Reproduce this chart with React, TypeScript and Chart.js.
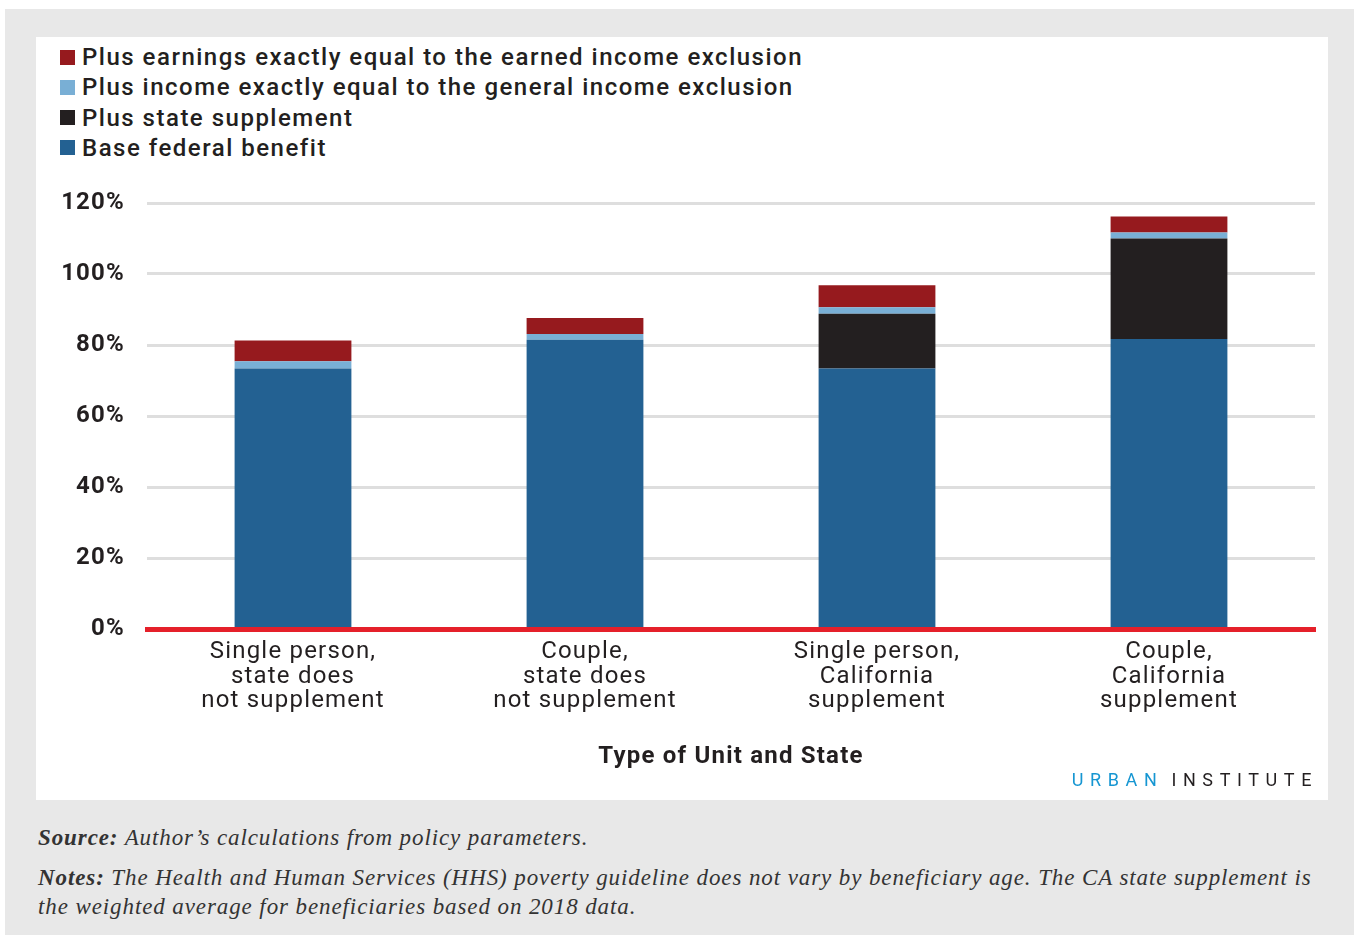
import React, { useEffect, useRef } from "react";
import { Chart, registerables } from "chart.js";

Chart.register(...registerables);

const categories: string[][] = [
  ["Single person,", "state does", "not supplement"],
  ["Couple,", "state does", "not supplement"],
  ["Single person,", "California", "supplement"],
  ["Couple,", "California", "supplement"],
];
const baseFederal = [73.4, 81.5, 73.4, 81.7];
const stateSupplement = [0, 0, 15.4, 28.3];
const generalIncome = [2.0, 1.6, 1.8, 1.7];
const earnedIncome = [5.9, 4.5, 6.2, 4.5];

const seriesLabels = [
  "Base federal benefit",
  "Plus state supplement",
  "Plus income exactly equal to the general income exclusion",
  "Plus earnings exactly equal to the earned income exclusion",
];
const seriesColors = ["#236192", "#231f20", "#79afd5", "#961a1e"];
const yTickValues = [0, 20, 40, 60, 80, 100, 120];
const xAxisTitle = "Type of Unit and State";

const FONT = "Roboto, 'Noto Sans', sans-serif";

const spacingPlugin = {
  id: "letterSpacing",
  beforeLayout(chart: any) {
    chart.ctx.letterSpacing = "1.2px";
  },
  beforeDraw(chart: any) {
    chart.ctx.letterSpacing = "1.2px";
  },
};

export default function App() {
  const ref = useRef<HTMLCanvasElement | null>(null);

  useEffect(() => {
    if (!ref.current) return;
    const series = [baseFederal, stateSupplement, generalIncome, earnedIncome];
    const chart = new Chart(ref.current, {
      type: "bar",
      plugins: [spacingPlugin],
      data: {
        labels: categories,
        datasets: series.map((d, i) => ({
          label: seriesLabels[i],
          data: d,
          backgroundColor: seriesColors[i],
          borderWidth: 0,
          barPercentage: 0.4,
          categoryPercentage: 1,
        })),
      },
      options: {
        responsive: false,
        animation: false,
        devicePixelRatio: 1,
        layout: { padding: { top: 23, right: 13, bottom: 0, left: 0 } },
        plugins: {
          legend: { display: false },
          tooltip: { enabled: false },
        },
        scales: {
          x: {
            stacked: true,
            grid: { display: false, drawTicks: false },
            border: { display: true, color: "#e5202a", width: 5, z: 2 },
            ticks: {
              color: "#231f20",
              padding: 11,
              font: { family: FONT, size: 24, weight: "400", lineHeight: 1.02 },
              maxRotation: 0,
              autoSkip: false,
            },
            title: {
              display: true,
              text: xAxisTitle,
              color: "#231f20",
              font: { family: FONT, size: 24, weight: "bold", lineHeight: 1.2 },
              padding: { top: 0, bottom: 29 },
            },
            afterFit: (s: any) => {
              s.height = 171;
            },
          },
          y: {
            stacked: true,
            min: 0,
            max: 120,
            afterBuildTicks: (s: any) => {
              s.ticks = yTickValues.map((v) => ({ value: v }));
            },
            grid: {
              color: "#dedede",
              lineWidth: 3,
              drawTicks: true,
              tickLength: 22,
              tickColor: "rgba(0,0,0,0)",
            },
            border: { display: false },
            ticks: {
              color: "#231f20",
              padding: 0,
              font: { family: FONT, size: 24, weight: "bold" },
              callback: (v: any) => v + "%",
            },
            afterFit: (s: any) => {
              s.width = 111;
            },
          },
        },
      },
    });
    return () => chart.destroy();
  }, []);

  const legendOrder = [3, 2, 1, 0];

  return (
    <div
      style={{
        position: "fixed",
        left: 0,
        top: 0,
        width: 1354,
        height: 935,
        background: "#ffffff",
        overflow: "hidden",
      }}
    >
      <div
        style={{
          position: "absolute",
          left: 5,
          top: 9,
          width: 1349,
          height: 926,
          background: "#e8e8e8",
        }}
      />
      <div
        style={{
          position: "absolute",
          left: 36,
          top: 37,
          width: 1292,
          height: 763,
          background: "#ffffff",
        }}
      >
        {legendOrder.map((si, row) => (
          <div
            key={si}
            style={{
              position: "absolute",
              left: 24,
              top: 20 + row * 30.3 - 15,
              height: 30,
              display: "flex",
              alignItems: "center",
              whiteSpace: "nowrap",
            }}
          >
            <span
              style={{
                display: "inline-block",
                width: 15,
                height: 15,
                background: seriesColors[si],
                marginRight: 7,
              }}
            />
            <span
              style={{
                fontFamily: FONT,
                fontSize: 24,
                fontWeight: 500,
                color: "#231f20",
                letterSpacing: 1.5,
              }}
            >
              {seriesLabels[si]}
            </span>
          </div>
        ))}
        <canvas
          ref={ref}
          width={1292}
          height={620}
          style={{ position: "absolute", left: 0, top: 143, width: 1292, height: 620 }}
        />
        <div
          style={{
            position: "absolute",
            right: 10,
            top: 731,
            fontFamily: FONT,
            fontSize: 18,
            fontWeight: 400,
            letterSpacing: 6.6,
            lineHeight: "24px",
            whiteSpace: "nowrap",
          }}
        >
          <span style={{ color: "#1696d2" }}>URBAN</span>
          <span style={{ color: "#231f20", marginLeft: 8 }}>INSTITUTE</span>
        </div>
      </div>
      <div
        style={{
          position: "absolute",
          left: 38,
          top: 823,
          fontFamily: "'Liberation Serif', serif",
          fontStyle: "italic",
          fontSize: 23,
          letterSpacing: 0.9,
          color: "#333333",
          lineHeight: "29px",
          width: 1300,
          whiteSpace: "nowrap",
        }}
      >
        <div>
          <b>Source:</b> Author’s calculations from policy parameters.
        </div>
        <div style={{ marginTop: 11 }}>
          <b>Notes:</b> The Health and Human Services (HHS) poverty guideline does not vary by beneficiary age. The CA state supplement is
          <br />
          the weighted average for beneficiaries based on 2018 data.
        </div>
      </div>
    </div>
  );
}
